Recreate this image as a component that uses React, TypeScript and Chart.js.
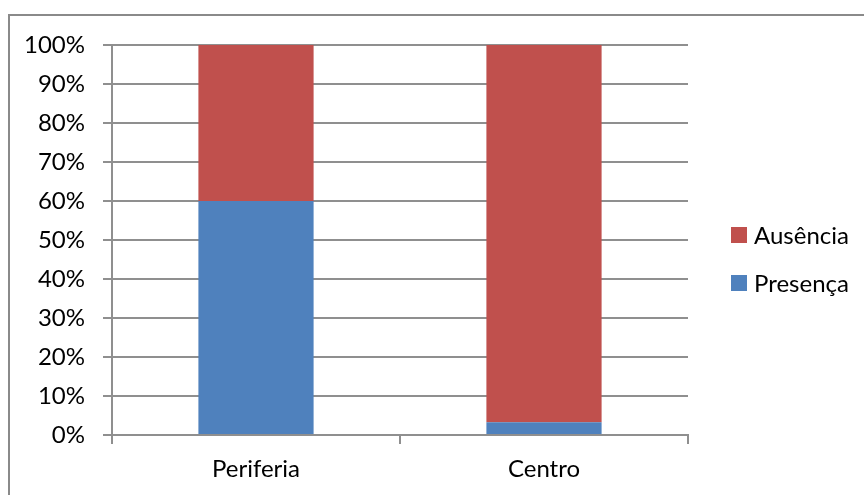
import React, { useEffect, useRef } from "react";
import { Chart, registerables } from "chart.js";

Chart.register(...registerables);

// Share of each region with presence / absence
const categories = ["Periferia", "Centro"];
const presenca = [60, 3.3];
const ausencia = [40, 96.7];
const yTicks = [0, 10, 20, 30, 40, 50, 60, 70, 80, 90, 100];

const FONT = "Lato, 'Open Sans', sans-serif";
const RED = "#C0504D";
const BLUE = "#4F81BD";
const GRID = "#8f8f8f";

// Legend drawn to the right of the plot, last series on top
const sideLegend = {
  id: "sideLegend",
  afterDraw(chart: any) {
    const { ctx, chartArea } = chart;
    const sets = [...chart.data.datasets].reverse();
    const x = chartArea.right + 43;
    const startY = 235;
    const gap = 48;
    ctx.save();
    ctx.font = `24px ${FONT}`;
    ctx.textBaseline = "middle";
    ctx.textAlign = "left";
    sets.forEach((ds: any, i: number) => {
      const cy = startY + i * gap;
      ctx.fillStyle = ds.backgroundColor;
      ctx.fillRect(x, cy - 8, 16, 16);
      ctx.fillStyle = "#000";
      ctx.fillText(ds.label, x + 23, cy + 1);
    });
    ctx.restore();
  },
};

export default function App() {
  const ref = useRef<HTMLCanvasElement>(null);

  useEffect(() => {
    if (!ref.current) return;
    const chart = new Chart(ref.current, {
      type: "bar",
      data: {
        labels: categories,
        datasets: [
          { label: "Presença", data: presenca, backgroundColor: BLUE, categoryPercentage: 0.4, barPercentage: 1 },
          { label: "Ausência", data: ausencia, backgroundColor: RED, categoryPercentage: 0.4, barPercentage: 1 },
        ],
      },
      options: {
        animation: false,
        responsive: false,
        maintainAspectRatio: false,
        layout: { padding: { left: 0, right: 176, top: 45, bottom: 0 } },
        plugins: { legend: { display: false }, tooltip: { enabled: false } },
        scales: {
          x: {
            stacked: true,
            afterFit: (s: any) => { s.height = 60; },
            grid: { display: true, drawOnChartArea: false, drawTicks: true, tickLength: 9, color: GRID, lineWidth: 2, offset: true },
            border: { display: true, color: GRID, width: 2 },
            ticks: { color: "#000", font: { family: FONT, size: 24 }, padding: 11 },
          },
          y: {
            stacked: true,
            min: 0,
            max: 100,
            afterFit: (s: any) => { s.width = 112; },
            afterBuildTicks: (s: any) => { s.ticks = yTicks.map((v) => ({ value: v })); },
            grid: { color: GRID, lineWidth: 2, tickLength: 9, drawTicks: true },
            border: { display: true, color: GRID, width: 2 },
            ticks: {
              color: "#000",
              font: { family: FONT, size: 24 },
              padding: 18,
              callback: (v: any) => `${v}%`,
            },
          },
        },
      },
      plugins: [sideLegend],
    });
    return () => chart.destroy();
  }, []);

  return (
    <div style={{ position: "fixed", left: 0, top: 0, width: 864, height: 495, background: "#fff", overflow: "hidden" }}>
      <div
        style={{
          position: "absolute",
          left: 8,
          top: 14,
          width: 900,
          height: 520,
          border: "2px solid #8a8a8a",
        }}
      />
      <canvas ref={ref} width={864} height={495} style={{ position: "absolute", left: 0, top: 0 }} />
    </div>
  );
}
